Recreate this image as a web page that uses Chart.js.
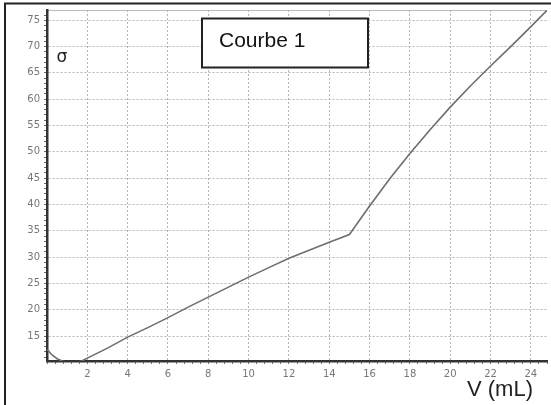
<!DOCTYPE html>
<html>
<head>
<meta charset="utf-8">
<script src="https://cdn.jsdelivr.net/npm/chart.js@4/dist/chart.umd.min.js"></script>
<style>
  html, body { margin: 0; padding: 0; background: #fff; }
  #wrap { width: 551px; height: 405px; }
</style>
</head>
<body>
<div id="wrap"><canvas id="chart"></canvas></div>
<script>
// volume added (mL) and conductivity
const volumes = [0, 0.25, 0.5, 0.75, 1, 1.25, 1.5, 1.75, 2, 3, 4, 5, 6, 7, 8, 9, 10, 11, 12, 13, 14, 15,
                 16, 17, 18, 19, 20, 21, 22, 23, 24, 24.8];
const sigma = [12.5, 11.4, 10.7, 10.25, 10.0, 9.9, 10.0, 10.3, 10.8, 12.7, 14.8, 16.6, 18.5, 20.5, 22.4, 24.3, 26.2, 28.0, 29.8, 31.3, 32.8, 34.3,
               39.7, 44.9, 49.7, 54.2, 58.5, 62.5, 66.3, 70.0, 73.8, 76.9];

const curveLabel = 'Courbe 1';
const yTitle = 'σ';
const xTitle = 'V (mL)';

const xRange = [0, 24.8];
const yRange = [10.26, 76.95];
const xMajor = 2, xMinor = 0.4;
const yMajor = 5, yMinor = 1;

function isMajor(v, step) {
    const r = v / step;
    return Math.abs(r - Math.round(r)) < 1e-6;
}

const decor = {
    id: 'decor',
    beforeDraw(chart) {
        const c = chart.ctx, a = chart.chartArea;
        c.save();
        // top border of plot area
        c.strokeStyle = '#bbb';
        c.lineWidth = 1;
        c.beginPath();
        c.moveTo(a.left, a.top + 0.5);
        c.lineTo(a.right, a.top + 0.5);
        c.stroke();
        c.restore();
    },
    afterDraw(chart) {
        const c = chart.ctx;
        c.save();
        // outer frame
        c.strokeStyle = '#222';
        c.lineWidth = 2;
        c.beginPath();
        c.moveTo(5, 405);
        c.lineTo(5, 3.5);
        c.lineTo(551, 3.5);
        c.stroke();

        // label box
        c.fillStyle = '#fff';
        c.fillRect(202, 18.5, 166, 49);
        c.strokeStyle = '#222';
        c.lineWidth = 2;
        c.strokeRect(202, 18.5, 166, 49);
        c.fillStyle = '#111';
        c.font = '21px "Liberation Sans", Arial, sans-serif';
        c.textBaseline = 'middle';
        c.textAlign = 'left';
        c.fillText(curveLabel, 219, 41);

        // axis titles
        c.font = '17px "DejaVu Sans", sans-serif';
        c.fillStyle = '#222';
        c.textAlign = 'center';
        c.fillText(yTitle, 62, 58);
        c.font = '22px "Liberation Sans", Arial, sans-serif';
        c.textBaseline = 'alphabetic';
        c.fillText(xTitle, 500, 396);
        c.restore();
    }
};

const ctx = document.getElementById('chart').getContext('2d');
new Chart(ctx, {
    type: 'line',
    data: {
        labels: volumes,
        datasets: [{
            data: volumes.map((v, i) => ({ x: v, y: sigma[i] })),
            borderColor: '#6e6e6e',
            borderWidth: 1.6,
            pointRadius: 0,
            tension: 0
        }]
    },
    options: {
        responsive: true,
        maintainAspectRatio: false,
        animation: false,
        layout: { padding: { top: 9, right: 2, left: 0, bottom: 0 } },
        plugins: {
            legend: { display: false },
            tooltip: { enabled: false }
        },
        scales: {
            x: {
                type: 'linear',
                min: xRange[0],
                max: xRange[1],
                afterFit: s => { s.height = 44; },
                border: { color: '#333', width: 2.5, dash: [2, 2] },
                grid: {
                    color: c => isMajor(c.tick.value, xMajor) ? '#b4b4b4' : 'rgba(0,0,0,0)',
                    tickColor: '#666',
                    tickLength: 3
                },
                ticks: {
                    stepSize: xMinor,
                    includeBounds: false,
                    autoSkip: false,
                    maxRotation: 0,
                    padding: 4,
                    color: '#777',
                    font: { size: 10, family: '"DejaVu Sans", sans-serif' },
                    callback: v => (isMajor(v, xMajor) && v > 0) ? Math.round(v) : ''
                }
            },
            y: {
                type: 'linear',
                min: yRange[0],
                max: yRange[1],
                afterFit: s => { s.width = 47; },
                border: { color: '#333', width: 2.5, dash: [2, 2] },
                grid: {
                    color: c => isMajor(c.tick.value, yMajor) ? '#b4b4b4' : 'rgba(0,0,0,0)',
                    tickColor: '#666',
                    tickLength: 3
                },
                ticks: {
                    stepSize: yMinor,
                    includeBounds: false,
                    autoSkip: false,
                    padding: 4,
                    color: '#777',
                    font: { size: 10, family: '"DejaVu Sans", sans-serif' },
                    callback: v => isMajor(v, yMajor) ? Math.round(v) : ''
                }
            }
        }
    },
    plugins: [decor]
});
</script>
</body>
</html>
